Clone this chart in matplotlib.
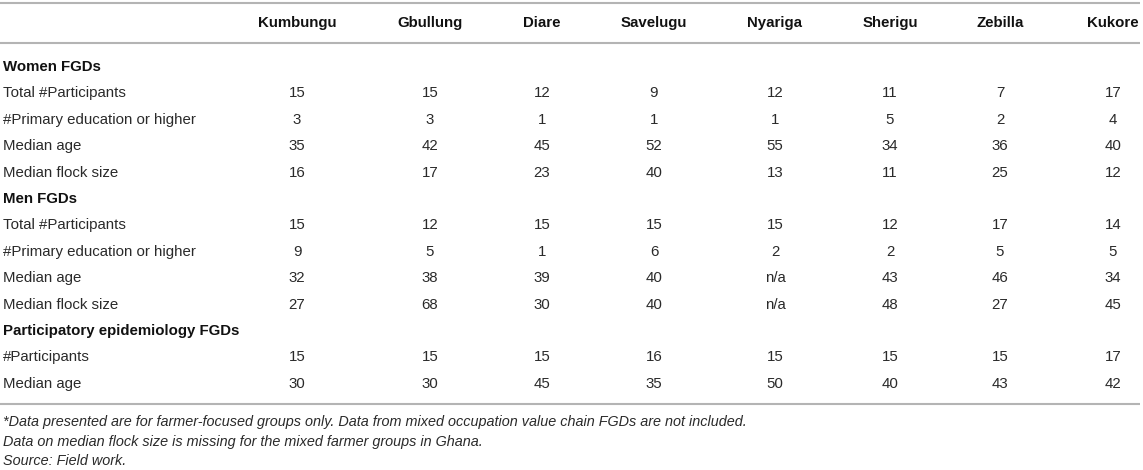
import matplotlib.pyplot as plt

# Table content
sites = ['Kumbungu', 'Gbullung', 'Diare', 'Savelugu', 'Nyariga', 'Sherigu', 'Zebilla', 'Kukore']

women_total = [15, 15, 12, 9, 12, 11, 7, 17]
women_primary = [3, 3, 1, 1, 1, 5, 2, 4]
women_age = [35, 42, 45, 52, 55, 34, 36, 40]
women_flock = [16, 17, 23, 40, 13, 11, 25, 12]

men_total = [15, 12, 15, 15, 15, 12, 17, 14]
men_primary = [9, 5, 1, 6, 2, 2, 5, 5]
men_age = [32, 38, 39, 40, 'n/a', 43, 46, 34]
men_flock = [27, 68, 30, 40, 'n/a', 48, 27, 45]

pe_participants = [15, 15, 15, 16, 15, 15, 15, 17]
pe_age = [30, 30, 45, 35, 50, 40, 43, 42]

footnotes = [
    '*Data presented are for farmer-focused groups only. Data from mixed occupation value chain FGDs are not included.',
    'Data on median flock size is missing for the mixed farmer groups in Ghana.',
    'Source: Field work.',
]

rows = [
    ('Women FGDs', None),
    ('Total #Participants', women_total),
    ('#Primary education or higher', women_primary),
    ('Median age', women_age),
    ('Median flock size', women_flock),
    ('Men FGDs', None),
    ('Total #Participants', men_total),
    ('#Primary education or higher', men_primary),
    ('Median age', men_age),
    ('Median flock size', men_flock),
    ('Participatory epidemiology FGDs', None),
    ('#Participants', pe_participants),
    ('Median age', pe_age),
]

# layout (pixel coordinates)
W, H = 1143, 470
col_x = [297, 430, 542, 654, 775, 890, 1000, 1113]
label_x = 3
header_y = 23
first_row_y = 67
row_step = 26.4
foot_y = [422, 442, 461]
line_color = '#b4b4b4'
fs = 10.8

plt.rcParams['font.family'] = ['Liberation Sans', 'DejaVu Sans']

fig = plt.figure(figsize=(W / 100, H / 100), dpi=100)
ax = fig.add_axes([0, 0, 1, 1])
ax.set_xlim(0, W)
ax.set_ylim(H, 0)
ax.axis('off')

# horizontal rules
for y in (3, 43, 404):
    ax.plot([0, 1140], [y, y], color=line_color, linewidth=1.5, solid_capstyle='butt')

# header (last column is flush with the right edge of the rules)
for i, (x, name) in enumerate(zip(col_x, sites)):
    if i == len(sites) - 1:
        ax.text(1139, header_y, name, ha='right', va='center', fontsize=fs,
                fontweight='bold', color='#111111')
    else:
        ax.text(x, header_y, name, ha='center', va='center', fontsize=fs,
                fontweight='bold', color='#111111')

# body
for i, (label, values) in enumerate(rows):
    y = first_row_y + i * row_step
    if values is None:
        ax.text(label_x, y, label, ha='left', va='center', fontsize=fs,
                fontweight='bold', color='#111111')
        continue
    ax.text(label_x, y, label, ha='left', va='center', fontsize=fs, color='#2a2a2a')
    for x, v in zip(col_x, values):
        ax.text(x, y, str(v), ha='center', va='center', fontsize=fs, color='#2a2a2a')

# footnotes
for y, note in zip(foot_y, footnotes):
    ax.text(label_x, y, note, ha='left', va='center', fontsize=10.4,
            style='italic', color='#2a2a2a')

fig.savefig('out.png', dpi=100)
